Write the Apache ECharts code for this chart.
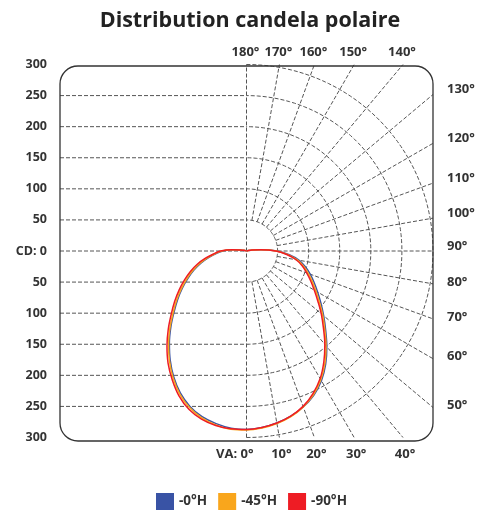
<!DOCTYPE html>
<html><head><meta charset="utf-8">
<script src="https://cdn.jsdelivr.net/npm/echarts@6/dist/echarts.min.js"></script>
<style>html,body{margin:0;padding:0;background:#fff}#c{width:482px;height:515px}</style>
</head><body><div id="c"></div>
<script>
// vertical angles (deg, 0 = straight down)
const angles = [0,5,10,15,20,25,30,35,40,45,50,55,60,65,70,75,80,85,90,95,100,105,110,115,120,125,130,135,140,145,150,155,160,165,170,175,180];
// candela values, right half / left half of each horizontal plane
const h0Right  = [287,285,281,275,267,256,241,222,201,180,162,146,132,120,109,98,86,69,49,24,10,3,1,0,0,0,0,0,0,0,0,0,0,0,0,0,0];
const h0Left   = [287,286,282,276,266,252,234,214,193,172,152,135,119,104,90,76,62,49,38,21,9,3,1,0,0,0,0,0,0,0,0,0,0,0,0,0,0];
const h45Right = [288,286,282,276,267,255,239,220,199,178,160,143,129,117,106,95,83,67,48,24,10,3,1,0,0,0,0,0,0,0,0,0,0,0,0,0,0];
const h45Left  = [289,288,284,278,268,254,236,216,195,174,154,137,121,106,92,78,64,51,40,22,10,4,1,0,0,0,0,0,0,0,0,0,0,0,0,0,0];
const h90Right = [287,285,281,275,266,253,237,217,196,175,157,140,126,114,103,93,81,65,47,23,9,3,1,0,0,0,0,0,0,0,0,0,0,0,0,0,0];
const h90Left  = [288,287,285,280,271,257,239,220,199,178,158,141,125,110,96,82,67,53,42,23,10,4,1,0,0,0,0,0,0,0,0,0,0,0,0,0,0];
const seriesNames = ['-0°H','-45°H','-90°H'];
const seriesColors = ['#3953a5','#f9a61c','#ee1c24'];

// grid / tick definitions
const cdMax = 300;
const cdStep = 50;
const gridRadii = [50,100,150,200,250,300];
const horizontalLevels = [-250,-200,-150,-100,-50,0,50,100,150,200,250];
const radialAngles = [10,20,30,40,50,60,70,80,90,100,110,120,130,140,150,160,170];
const rightLabels = [130,120,110,100,90,80,70,60,50];
const topLabels = [180,170,160,150,140];
const bottomLabels = [0,10,20,30,40];

const rad = d => d * Math.PI / 180;
function toXY(theta, cd, side) {
  const t = rad(theta);
  return [side * cd * Math.sin(t), -cd * Math.cos(t)];
}
function curve(right, left) {
  const pts = [];
  for (let i = angles.length - 1; i >= 0; i--) pts.push(toXY(angles[i], right[i], 1));
  for (let i = 1; i < angles.length; i++) pts.push(toXY(angles[i], left[i], -1));
  return pts;
}
function edgeDist(theta) {
  const t = rad(theta);
  const s = Math.abs(Math.sin(t)), c = Math.abs(Math.cos(t));
  return Math.min(s > 1e-9 ? cdMax / s : Infinity, c > 1e-9 ? cdMax / c : Infinity);
}

const gridLines = [];
horizontalLevels.forEach(y => gridLines.push({coords: [[-cdMax, y], [0, y]]}));
gridLines.push({coords: [[0, -cdMax], [0, cdMax]]});
gridRadii.forEach(r => {
  const c = [];
  for (let a = 0; a <= 180; a += 2) c.push(toXY(a, r, 1));
  gridLines.push({coords: c});
});
radialAngles.forEach(a => {
  gridLines.push({coords: [toXY(a, gridRadii[0], 1), toXY(a, edgeDist(a), 1)]});
});

const allData = [[h0Right, h0Left], [h45Right, h45Left], [h90Right, h90Left]];
const font = '"Open Sans", "DejaVu Sans", sans-serif';

const chart = echarts.init(document.getElementById('c'), null, {renderer: 'canvas'});
const series = [{
  type: 'lines', coordinateSystem: 'cartesian2d', polyline: true, silent: true,
  lineStyle: {color: '#555', width: 1, type: [4, 2], opacity: 1},
  data: gridLines, z: 1
}];
allData.forEach((d, i) => {
  series.push({
    name: seriesNames[i], type: 'line', data: curve(d[0], d[1]),
    showSymbol: false, smooth: 0.35, color: seriesColors[i],
    lineStyle: {color: seriesColors[i], width: 1.5}, z: 3 + i
  });
});

chart.setOption({
  animation: false,
  grid: {left: 60, top: 64.5, width: 373, height: 373},
  xAxis: {type: 'value', min: -cdMax, max: cdMax, show: false},
  yAxis: {type: 'value', min: -cdMax, max: cdMax, interval: cdStep,
    axisLine: {show: false}, axisTick: {show: false}, splitLine: {show: false},
    axisLabel: {margin: 13, fontSize: 12.5, fontWeight: 'bold', color: '#333', fontFamily: font,
      formatter: v => v === 0 ? 'CD: 0' : String(Math.abs(v))}
  },
  legend: {data: seriesNames, icon: 'rect', left: 156, top: 493, padding: 0,
    itemWidth: 18, itemHeight: 17, itemGap: 11,
    textStyle: {fontSize: 13.5, fontWeight: 'bold', color: '#333', fontFamily: font}},
  series: series
});

const px = p => chart.convertToPixel({gridIndex: 0}, p);
const tl = px([-cdMax, cdMax]), br = px([cdMax, -cdMax]);
const labelStyle = {font: 'bold 13px ' + font, fill: '#333'};
const g = [];
g.push({type: 'rect', silent: true, z: 2,
  shape: {x: tl[0], y: tl[1] + 1.5, width: br[0] - tl[0], height: br[1] + 3.5 - tl[1] - 1.5, r: 18},
  style: {fill: null, stroke: '#333', lineWidth: 1.3}});
g.push({type: 'text', silent: true, z: 10,
  style: {text: 'Distribution candela polaire', x: 250, y: 21, align: 'center', verticalAlign: 'middle',
    font: 'bold 21.5px ' + font, fill: '#222'}});
rightLabels.forEach(a => {
  const t = rad(a);
  const p = px([cdMax, -cdMax * Math.cos(t) / Math.sin(t)]);
  g.push({type: 'text', silent: true, style: Object.assign({text: a + '°', x: p[0] + 14, y: p[1] - (a >= 90 ? 5 : 2),
    align: 'left', verticalAlign: 'middle'}, labelStyle)});
});
topLabels.forEach(a => {
  const t = rad(a);
  const p = px([cdMax * Math.sin(t) / -Math.cos(t), cdMax]);
  g.push({type: 'text', silent: true, style: Object.assign({text: a + '°', x: p[0] - 1, y: p[1] - 12.5,
    align: 'center', verticalAlign: 'middle'}, labelStyle)});
});
bottomLabels.forEach(a => {
  const t = rad(a);
  const p = px([cdMax * Math.tan(t), -cdMax]);
  if (a === 0) {
    g.push({type: 'text', silent: true, style: Object.assign({text: 'VA: ' + a + '°', x: p[0] + 7, y: p[1] + 16.5,
      align: 'right', verticalAlign: 'middle'}, labelStyle)});
  } else {
    g.push({type: 'text', silent: true, style: Object.assign({text: a + '°', x: p[0] + 2, y: p[1] + 16.5,
      align: 'center', verticalAlign: 'middle'}, labelStyle)});
  }
});
chart.setOption({graphic: g});
</script>
</body></html>
